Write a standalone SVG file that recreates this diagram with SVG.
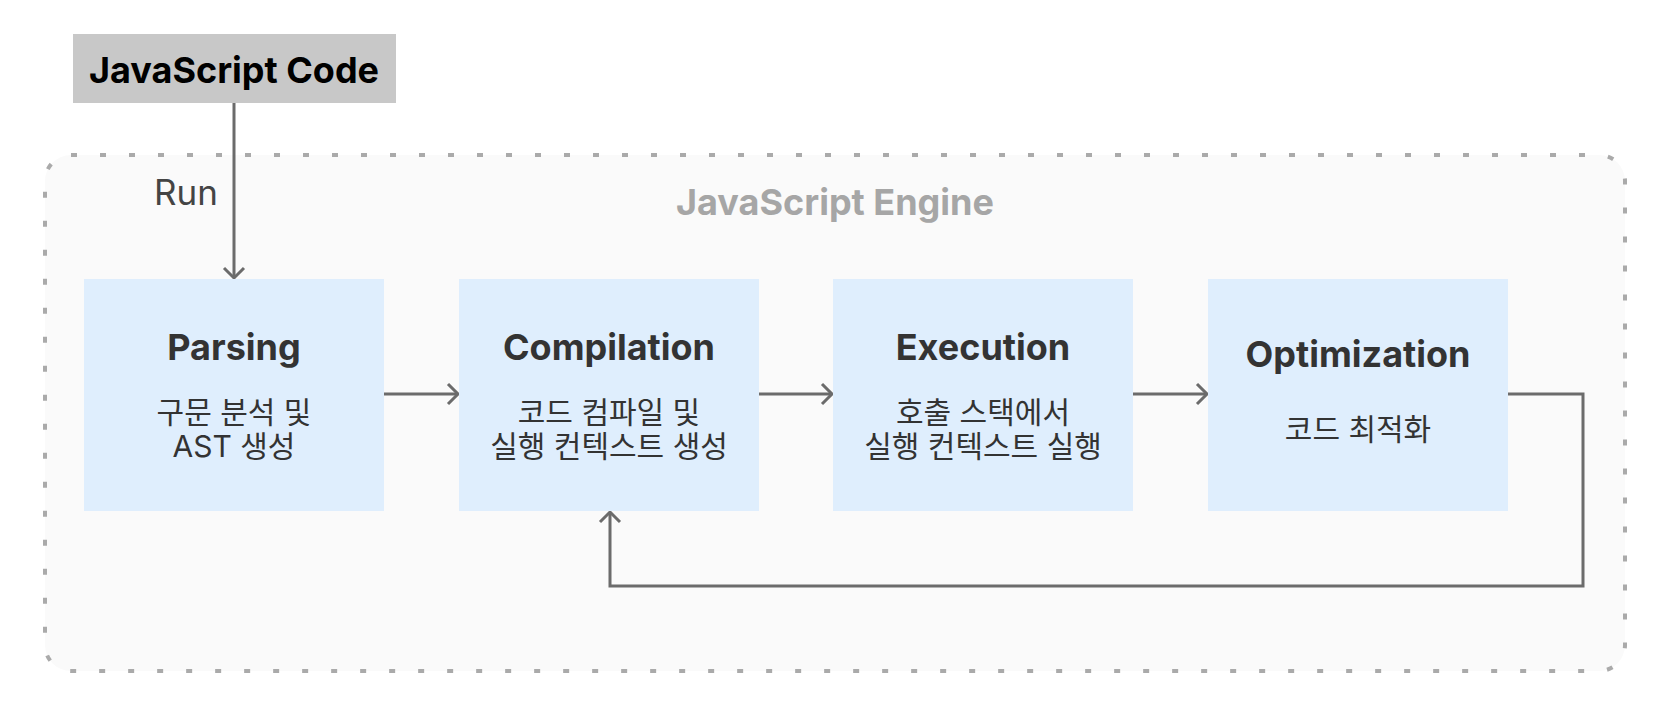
<svg xmlns="http://www.w3.org/2000/svg" width="1671" height="708" viewBox="0 0 1671 708">
<style>
.box{fill:#dfeefd}
.title{font-family:Inter,"Liberation Sans","Noto Sans CJK KR",sans-serif;font-weight:700;font-size:36px;fill:#333;text-anchor:middle}
.sub{font-family:Inter,"Noto Sans CJK KR",sans-serif;font-size:30px;fill:#333;text-anchor:middle}
.conn{fill:none;stroke:#6b6b6b;stroke-width:3}
</style>
<defs>
<marker id="arr" markerUnits="userSpaceOnUse" markerWidth="24" markerHeight="24" refX="12" refY="12" orient="auto" viewBox="0 0 24 24">
<path d="M2 2 L12 12 L2 22" fill="none" stroke="#6b6b6b" stroke-width="3"/>
</marker>
</defs>
<rect width="1671" height="708" fill="#ffffff"/>
<g id="engine">
<rect x="45" y="155" width="1580" height="516" rx="26" ry="26" fill="#fafafa" stroke="#aaaaaa" stroke-width="4" stroke-dasharray="6 23"/>
<text x="835" y="215" font-family="Inter,'Liberation Sans',sans-serif" font-weight="700" font-size="36" fill="#a6a6a6" text-anchor="middle">JavaScript Engine</text>
</g>
<g id="code">
<rect x="73" y="34" width="323" height="69" fill="#c8c8c8"/>
<text x="234" y="83" font-family="Inter,'Liberation Sans',sans-serif" font-weight="700" font-size="36" fill="#000" text-anchor="middle">JavaScript Code</text>
</g>
<g id="connectors">
<path class="conn" d="M234 103 V278" marker-end="url(#arr)"/>
<text x="186" y="205" font-family="Inter,'Liberation Sans',sans-serif" font-size="35" fill="#444" text-anchor="middle">Run</text>
<path class="conn" d="M384 394 H458" marker-end="url(#arr)"/>
<path class="conn" d="M759 394 H832" marker-end="url(#arr)"/>
<path class="conn" d="M1133 394 H1207" marker-end="url(#arr)"/>
<path class="conn" d="M1508 394 H1583 V586 H610 V512" marker-end="url(#arr)"/>
</g>
<g id="parsing">
<rect class="box" x="84" y="279" width="300" height="232"/>
<text class="title" x="234" y="360">Parsing</text>
<text class="sub" x="234" y="423">구문 분석 및</text>
<text class="sub" x="234" y="457">AST 생성</text>
</g>
<g id="compilation">
<rect class="box" x="459" y="279" width="300" height="232"/>
<text class="title" x="609" y="360">Compilation</text>
<text class="sub" x="609" y="423">코드 컴파일 및</text>
<text class="sub" x="609" y="457">실행 컨텍스트 생성</text>
</g>
<g id="execution">
<rect class="box" x="833" y="279" width="300" height="232"/>
<text class="title" x="983" y="360">Execution</text>
<text class="sub" x="983" y="423">호출 스택에서</text>
<text class="sub" x="983" y="457">실행 컨텍스트 실행</text>
</g>
<g id="optimization">
<rect class="box" x="1208" y="279" width="300" height="232"/>
<text class="title" x="1358" y="367">Optimization</text>
<text class="sub" x="1358" y="440">코드 최적화</text>
</g>
</svg>
